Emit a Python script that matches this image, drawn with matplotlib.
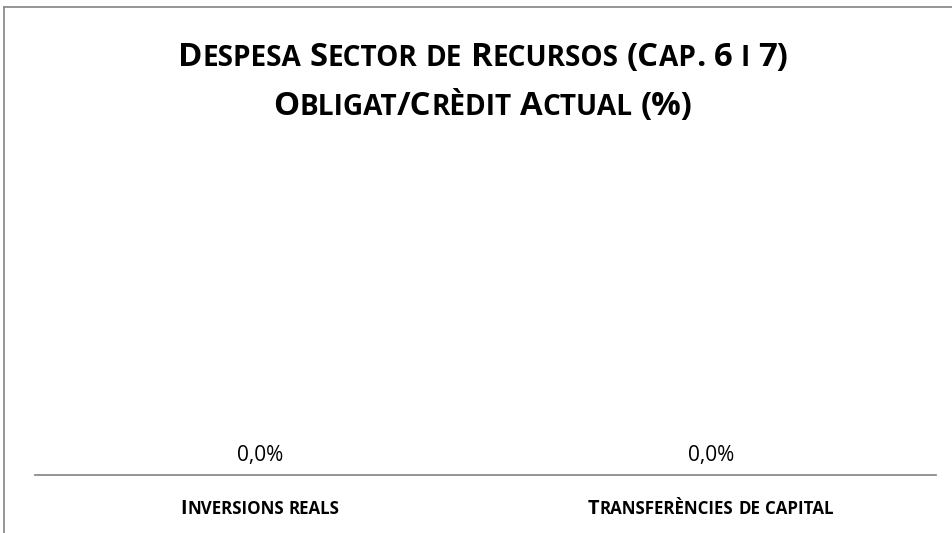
import matplotlib
matplotlib.use("Agg")
import matplotlib.pyplot as plt
from matplotlib.lines import Line2D
from matplotlib.text import Text
from matplotlib.transforms import IdentityTransform

# data
categories = ["Inversions reals", "Transferències de capital"]
values = [0.0, 0.0]
title_lines = ["Despesa Sector de Recursos (Cap. 6 i 7)", "Obligat/Crèdit Actual (%)"]

W, H = 953, 533
FONT = "Open Sans"
GRAY = "#8c8c8c"

fig = plt.figure(figsize=(W / 100, H / 100), dpi=100)
fig.patch.set_facecolor("white")

# chart frame (only top and left edges fall inside the picture)
fig.add_artist(Line2D([4 / W, 4 / W], [0, 1 - 7 / H], color=GRAY, lw=1.3,
                      transform=fig.transFigure))
fig.add_artist(Line2D([4 / W, 1], [1 - 7 / H, 1 - 7 / H], color=GRAY, lw=1.3,
                      transform=fig.transFigure))

ax = fig.add_axes([35 / W, (H - 475) / H, 901 / W, (475 - 160) / H])
x = list(range(len(categories)))
bars = ax.bar(x, values, width=0.6, color="#4f81bd")
ax.set_xlim(-0.5, len(categories) - 0.5)
ax.set_ylim(0, 1)
for s in ["top", "right", "left"]:
    ax.spines[s].set_visible(False)
ax.spines["bottom"].set_color(GRAY)
ax.spines["bottom"].set_linewidth(1.3)
ax.set_yticks([])
ax.set_xticks(x)
ax.set_xticklabels([])
ax.tick_params(axis="x", length=0)
ax.set_facecolor("none")

for xi, v in zip(x, values):
    ax.annotate(f"{v:.1f}%".replace(".", ","), (xi, v), xytext=(0, 10),
                textcoords="offset points", ha="center", va="baseline",
                fontsize=15, family=FONT, color="black")

renderer = fig.canvas.get_renderer()


def runs_of(s):
    out = []
    for c in s:
        kind = "sp" if c == " " else ("small" if c.islower() else "big")
        if out and out[-1][0] == kind:
            out[-1][1] += c
        else:
            out.append([kind, c])
    return out


def text_w(s, size, weight):
    t = Text(0, 0, s, fontsize=size, family=FONT, fontweight=weight)
    t.set_figure(fig)
    return t.get_window_extent(renderer).width


def small_caps(s, cx, base_y, size, ratio=0.85, weight="bold"):
    # cx, base_y in image pixels (origin top-left)
    pieces = []
    for kind, r in runs_of(s):
        sz = size if kind == "big" else size * ratio
        if kind == "sp":
            w = (text_w("n n", size, weight) - text_w("nn", size, weight)) * len(r)
            pieces.append((None, sz, w))
        else:
            txt = r.upper() if kind == "small" else r
            pieces.append((txt, sz, text_w(txt, sz, weight)))
    total = sum(p[2] for p in pieces)
    xp = cx - total / 2
    for txt, sz, w in pieces:
        if txt is not None:
            fig.add_artist(Text(xp, H - base_y, txt, fontsize=sz, family=FONT,
                                fontweight=weight, ha="left", va="baseline",
                                color="black", transform=IdentityTransform()))
        xp += w


small_caps(title_lines[0], 483, 66, 23.7)
small_caps(title_lines[1], 483, 115, 23.7)

for xi, cat in zip(x, categories):
    px = ax.transData.transform((xi, 0))[0]
    small_caps(cat, px, 514, 14.3)

fig.savefig("out.png", dpi=100)
